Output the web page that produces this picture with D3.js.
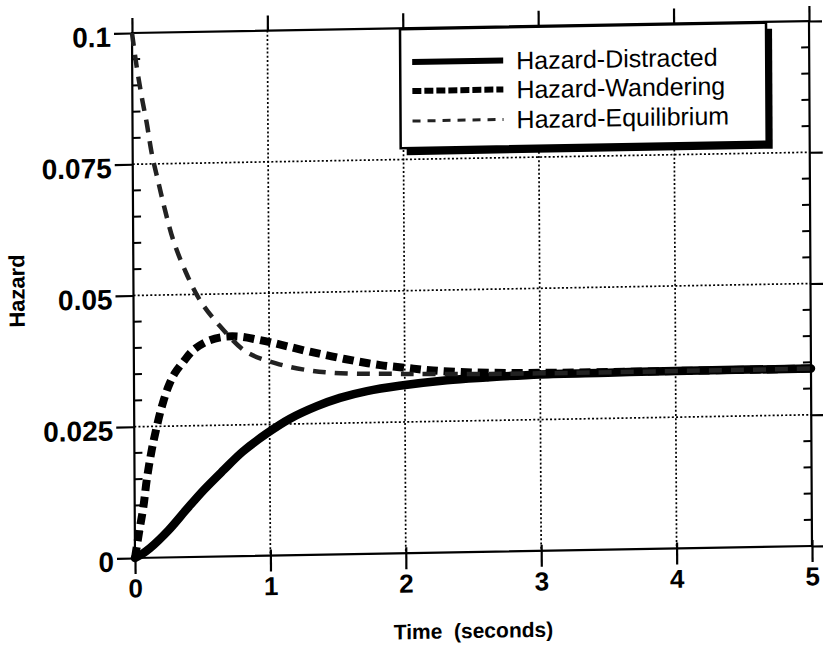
<!DOCTYPE html>
<html><head><meta charset="utf-8">
<script src="https://cdn.jsdelivr.net/npm/d3@7"></script>
<style>
body{margin:0;background:#fff}
svg{display:block}
text{font-family:"Liberation Sans",Arial,Helvetica,sans-serif;fill:#000}
</style>
</head><body>
<svg id="chart" width="823" height="651"></svg>
<script>
// ---- data ----
const xTickValues = [0, 1, 2, 3, 4, 5];
const xTickLabels = ["0", "1", "2", "3", "4", "5"];
const yTickValues = [0, 0.025, 0.05, 0.075, 0.1];
const yTickLabels = ["0", "0.025", "0.05", "0.075", "0.1"];
const yMinorValues = [0.005,0.01,0.015,0.02,0.03,0.035,0.04,0.045,0.055,0.06,0.065,0.07,0.08,0.085,0.09,0.095];
const seriesNames = ["Hazard-Distracted", "Hazard-Wandering", "Hazard-Equilibrium"];
const xTitle = "Time  (seconds)";
const yTitle = "Hazard";

const tDistracted = [0, 0.05, 0.11, 0.25, 0.38, 0.51, 0.66, 0.80, 0.98, 1.15, 1.35, 1.52, 1.72, 1.96, 2.31, 2.6, 3.0, 3.5, 4.0, 5.0];
const hDistracted = [0, 0.0007, 0.0018, 0.0052, 0.0090, 0.0127, 0.0165, 0.0199, 0.0233, 0.0260, 0.0283, 0.0298, 0.0310, 0.0319, 0.0328, 0.0332, 0.0336, 0.0337, 0.0338, 0.0338];

const tWandering = [0, 0.03, 0.064, 0.09, 0.128, 0.166, 0.204, 0.253, 0.30, 0.365, 0.44, 0.54, 0.66, 0.785, 0.91, 1.03, 1.15, 1.30, 1.47, 1.65, 1.82, 2.01, 2.21, 2.5, 3.0, 4.0, 5.0];
const hWandering = [0, 0.0047, 0.0097, 0.0148, 0.0205, 0.0249, 0.0287, 0.0325, 0.0350, 0.0372, 0.0394, 0.0410, 0.0418, 0.0418, 0.0412, 0.0405, 0.0397, 0.0387, 0.0377, 0.0367, 0.0359, 0.0353, 0.0347, 0.0342, 0.0339, 0.0338, 0.0338];

const tEquilibrium = [0, 0.033, 0.069, 0.105, 0.14, 0.19, 0.236, 0.296, 0.38, 0.49, 0.64, 0.83, 1.05, 1.28, 1.47, 1.72, 1.92, 2.09, 2.5, 3.0, 5.0];
const hEquilibrium = [0.1, 0.0936, 0.0878, 0.0828, 0.0771, 0.0713, 0.0662, 0.0604, 0.0547, 0.0489, 0.0438, 0.0389, 0.0366, 0.0352, 0.0346, 0.0343, 0.0342, 0.0341, 0.0339, 0.0338, 0.0338];

// ---- layout ----
const W = 677, H = 525;
const svg = d3.select("#chart");
// the scanned original is slightly skewed; reproduce with an affine frame
const g = svg.append("g").attr("transform", "matrix(1,-0.0177,0.0057,1,132,33)");

const x = d3.scaleLinear().domain([0, 5]).range([0, W]);
const y = d3.scaleLinear().domain([0, 0.1]).range([H, 0]);

// dotted grid
const grid = g.append("g").attr("stroke", "#000").attr("stroke-width", 1.7).attr("stroke-dasharray", "2,2.2");
grid.selectAll("line.gx").data(xTickValues.slice(1, -1)).join("line")
  .attr("x1", d => x(d)).attr("x2", d => x(d)).attr("y1", 0).attr("y2", H);
grid.selectAll("line.gy").data(yTickValues.slice(1, -1)).join("line")
  .attr("y1", d => y(d)).attr("y2", d => y(d)).attr("x1", 0).attr("x2", W);

// frame
g.append("rect").attr("x", 0).attr("y", 0).attr("width", W).attr("height", H)
  .attr("fill", "none").attr("stroke", "#000").attr("stroke-width", 2.2);

function styleAxis(sel, fs) {
  sel.select(".domain").remove();
  sel.selectAll(".tick line").attr("stroke", "#000").attr("stroke-width", 2.2);
  sel.selectAll("text").attr("font-size", fs).attr("font-weight", "bold").attr("fill", "#000")
     .attr("font-family", '"Liberation Sans",Arial,sans-serif');
}

// bottom axis
const gb = g.append("g").attr("transform", `translate(0,${H})`)
  .call(d3.axisBottom(x).tickValues(xTickValues).tickFormat((d, i) => xTickLabels[i])
    .tickSizeInner(16).tickSizeOuter(0).tickPadding(5));
styleAxis(gb, 26);
gb.selectAll(".tick line").attr("y1", -6);

// top axis
const gt = g.append("g")
  .call(d3.axisTop(x).tickValues(xTickValues).tickFormat("").tickSizeInner(15).tickSizeOuter(0));
styleAxis(gt, 10);

// left axis
const gl = g.append("g")
  .call(d3.axisLeft(y).tickValues(yTickValues).tickFormat((d, i) => yTickLabels[i])
    .tickSizeInner(18).tickSizeOuter(0).tickPadding(3));
styleAxis(gl, 28);
gl.selectAll("text").attr("dy", "0.46em");

// right axis
const gr = g.append("g").attr("transform", `translate(${W},0)`)
  .call(d3.axisRight(y).tickValues(yTickValues).tickFormat("").tickSizeInner(13).tickSizeOuter(0));
styleAxis(gr, 10);

// minor ticks (inward) on left and right
const minor = g.append("g").attr("stroke", "#000").attr("stroke-width", 2);
minor.selectAll("line.ml").data(yMinorValues).join("line")
  .attr("x1", 0).attr("x2", 8).attr("y1", d => y(d)).attr("y2", d => y(d));
minor.selectAll("line.mr").data(yMinorValues).join("line")
  .attr("x1", W).attr("x2", W - 8).attr("y1", d => y(d)).attr("y2", d => y(d));

// axis titles
g.append("text").attr("x", 338).attr("y", 611).attr("text-anchor", "middle")
  .attr("font-size", 21).attr("font-weight", "bold").style("white-space", "pre").text(xTitle);
g.append("text").attr("transform", "translate(-109,256) rotate(-90)").attr("text-anchor", "middle")
  .attr("font-size", 22).attr("font-weight", "bold").text(yTitle);

// curves
const line = d3.line().x(d => x(d[0])).y(d => y(d[1])).curve(d3.curveCatmullRom.alpha(0.5));
const dDistracted = tDistracted.map((t, i) => [t, hDistracted[i]]);
const dWandering = tWandering.map((t, i) => [t, hWandering[i]]);
const dEquilibrium = tEquilibrium.map((t, i) => [t, hEquilibrium[i]]);

g.append("path").attr("d", line(dDistracted)).attr("fill", "none").attr("stroke", "#000")
  .attr("stroke-width", 8.5).attr("stroke-linecap", "round");
g.append("path").attr("d", line(dWandering)).attr("fill", "none").attr("stroke", "#000")
  .attr("stroke-width", 8).attr("stroke-dasharray", "11,6");
g.append("path").attr("d", line(dEquilibrium)).attr("fill", "none").attr("stroke", "#222")
  .attr("stroke-width", 4.5).attr("stroke-dasharray", "13,9");

// legend
const lg = g.append("g");
lg.append("rect").attr("x", 274).attr("y", 7).attr("width", 366).attr("height", 120).attr("fill", "#000");
lg.append("rect").attr("x", 268).attr("y", 1).attr("width", 366).attr("height", 119)
  .attr("fill", "#fff").attr("stroke", "#000").attr("stroke-width", 2.5);
const rows = [34, 63, 93];
const sampleStyles = [
  {w: 6, dash: null, c: "#000"},
  {w: 6, dash: "9,3", c: "#000"},
  {w: 3, dash: "8,7", c: "#222"}
];
seriesNames.forEach((name, i) => {
  const s = sampleStyles[i];
  const ln = lg.append("line").attr("x1", 280).attr("x2", 371).attr("y1", rows[i]).attr("y2", rows[i])
    .attr("stroke", s.c).attr("stroke-width", s.w);
  if (s.dash) ln.attr("stroke-dasharray", s.dash);
  lg.append("text").attr("x", 384).attr("y", rows[i] + 9).attr("font-size", 25)
    .attr("fill", i === 2 ? "#333" : "#000").text(name);
});
</script>
</body></html>
